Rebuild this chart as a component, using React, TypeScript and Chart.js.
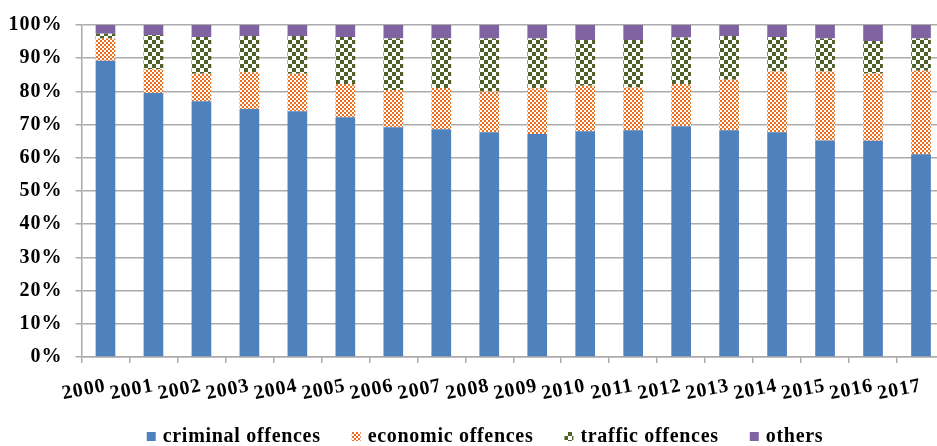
import React, { useEffect, useRef } from "react";
import { Chart, registerables } from "chart.js";

Chart.register(...registerables);

// Share of registered offences by type, per year (percent of total)
const years = [
  "2000", "2001", "2002", "2003", "2004", "2005", "2006", "2007", "2008",
  "2009", "2010", "2011", "2012", "2013", "2014", "2015", "2016", "2017",
];
const criminal = [89.2, 79.5, 77.0, 74.7, 74.0, 72.2, 69.2, 68.6, 67.7, 67.2, 68.0, 68.3, 69.5, 68.3, 67.7, 65.2, 65.1, 61.1];
const economic = [6.7, 7.2, 8.3, 11.1, 11.3, 10.0, 11.2, 12.4, 12.3, 13.7, 13.7, 12.9, 12.7, 15.2, 18.3, 20.8, 20.3, 25.1];
const traffic = [1.5, 10.3, 11.1, 10.9, 11.4, 14.2, 15.5, 14.9, 15.9, 15.0, 13.8, 14.3, 14.0, 13.2, 10.4, 9.9, 9.8, 9.7];
const others = [2.6, 3.0, 3.6, 3.3, 3.3, 3.6, 4.1, 4.1, 4.1, 4.1, 4.5, 4.5, 3.8, 3.3, 3.6, 4.1, 4.8, 4.1];
const yTicks = [0, 10, 20, 30, 40, 50, 60, 70, 80, 90, 100];

const FONT = "'Liberation Serif', 'Times New Roman', serif";
const BLUE = "#4F81BD";
const ORANGE = "#EC6E1E";
const GREEN = "#4F6228";
const PURPLE = "#8064A2";
const GRID = "#ABABAB";

function checker(cell: number, color: string): CanvasPattern | string {
  const c = document.createElement("canvas");
  c.width = cell * 2;
  c.height = cell * 2;
  const g = c.getContext("2d");
  if (!g) return color;
  g.fillStyle = "#FFFFFF";
  g.fillRect(0, 0, cell * 2, cell * 2);
  g.fillStyle = color;
  g.fillRect(0, 0, cell, cell);
  g.fillRect(cell, cell, cell, cell);
  const p = g.createPattern(c, "repeat");
  return p || color;
}

// Spread glyphs a little, like the wide serif lettering of the figure
const spacingPlugin = {
  id: "letterSpacing",
  beforeUpdate(chart: any) {
    chart.ctx.letterSpacing = "1px";
  },
  beforeDraw(chart: any) {
    chart.ctx.letterSpacing = "1px";
  },
};

// Legend row under the axis
const legendPlugin = {
  id: "bottomLegend",
  afterDraw(chart: any) {
    const ctx: CanvasRenderingContext2D = chart.ctx;
    ctx.save();
    ctx.font = `bold 20px ${FONT}`;
    (ctx as any).letterSpacing = "0.7px";
    ctx.textBaseline = "alphabetic";
    ctx.textAlign = "left";
    const box = 9;
    const gap = 7;
    const spacing = 31;
    const items = chart.data.datasets.map((ds: any) => ({
      label: ds.label as string,
      fill: ds.backgroundColor,
      w: ctx.measureText(ds.label).width,
    }));
    const total =
      items.reduce((s: number, it: any) => s + box + gap + it.w, 0) +
      spacing * (items.length - 1);
    let x = 485 - total / 2;
    const baseline = 441.5;
    for (const it of items) {
      ctx.fillStyle = it.fill;
      ctx.fillRect(x, baseline - 9.5, box, box);
      ctx.fillStyle = "#000000";
      ctx.fillText(it.label, x + box + gap, baseline);
      x += box + gap + it.w + spacing;
    }
    ctx.restore();
  },
};

export default function App() {
  const ref = useRef<HTMLCanvasElement | null>(null);

  useEffect(() => {
    if (!ref.current) return;
    const chart = new Chart(ref.current, {
      type: "bar",
      data: {
        labels: years,
        datasets: [
          { label: "criminal offences", data: criminal, backgroundColor: BLUE },
          { label: "economic offences", data: economic, backgroundColor: checker(2, ORANGE) as any },
          { label: "traffic offences", data: traffic, backgroundColor: checker(4, GREEN) as any },
          { label: "others", data: others, backgroundColor: PURPLE },
        ],
      },
      options: {
        animation: false,
        responsive: false,
        maintainAspectRatio: false,
        layout: { padding: { top: 22, left: 0, right: 0, bottom: 0 } },
        datasets: {
          bar: { barPercentage: 0.41, categoryPercentage: 1, borderWidth: 0 },
        },
        plugins: {
          legend: { display: false },
          tooltip: { enabled: false },
        },
        scales: {
          x: {
            stacked: true,
            afterFit(scale: any) {
              scale.height = 89;
            },
            grid: {
              drawOnChartArea: false,
              drawTicks: true,
              tickLength: 6,
              color: GRID,
              lineWidth: 1.5,
              offset: true,
            },
            border: { color: GRID, width: 1.5 },
            ticks: {
              autoSkip: false,
              minRotation: 11,
              maxRotation: 11,
              padding: 11,
              color: "#000000",
              font: { family: FONT, size: 20, weight: "bold" },
            },
          },
          y: {
            stacked: true,
            min: 0,
            max: 100,
            afterFit(scale: any) {
              scale.width = 81.5;
            },
            afterBuildTicks(scale: any) {
              scale.ticks = yTicks.map((v) => ({ value: v }));
            },
            grid: {
              color: GRID,
              lineWidth: 1.5,
              tickLength: 6,
              drawTicks: true,
            },
            border: { color: GRID, width: 1.5 },
            ticks: {
              padding: 13,
              color: "#000000",
              font: { family: FONT, size: 20, weight: "bold" },
              callback: (v: any) => `${v}%`,
            },
          },
        },
      },
      plugins: [spacingPlugin, legendPlugin],
    });
    return () => chart.destroy();
  }, []);

  return (
    <div style={{ width: 945, height: 446, overflow: "hidden" }}>
      <style>{"html,body{margin:0;padding:0;overflow:hidden;background:#fff}"}</style>
      <canvas ref={ref} width={945} height={446} style={{ display: "block" }} />
    </div>
  );
}
